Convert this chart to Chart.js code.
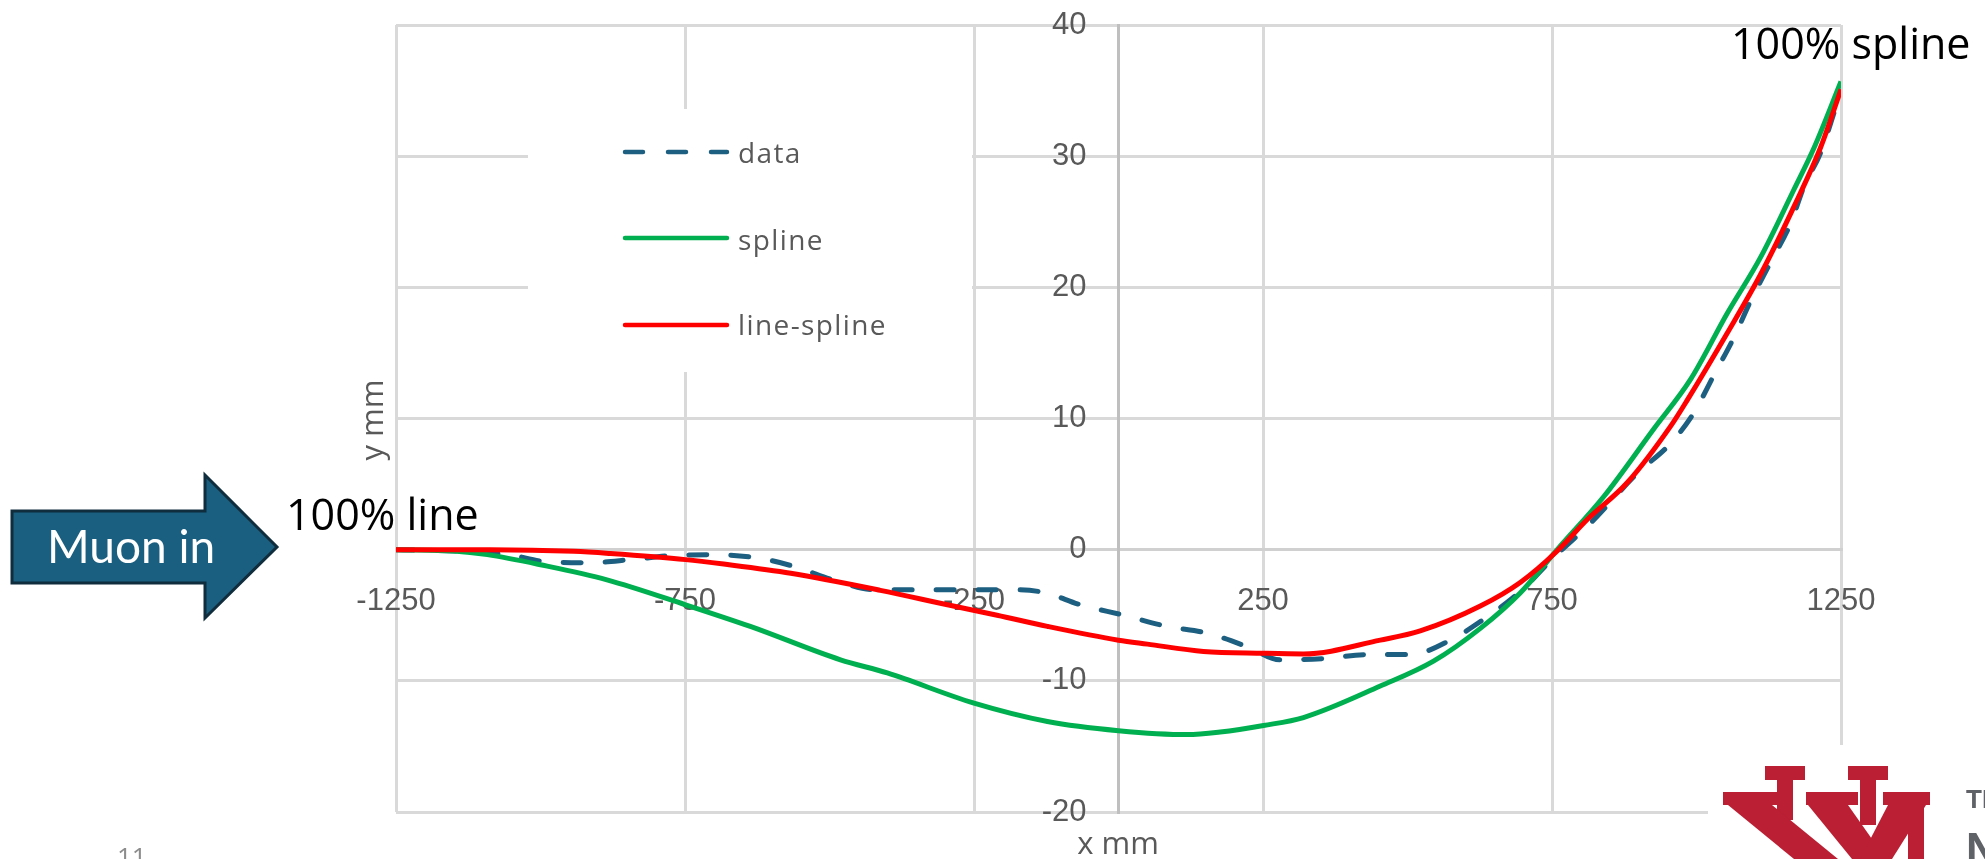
<!DOCTYPE html>
<html>
<head>
<meta charset="utf-8">
<script src="https://cdn.jsdelivr.net/npm/chart.js@4.4.1/dist/chart.umd.min.js"></script>
<style>
  html, body { margin: 0; padding: 0; background: #fff; }
  #wrap { position: relative; width: 1985px; height: 859px; overflow: hidden; }
  #chart { position: absolute; left: 0; top: 0; }
  #deco { position: absolute; left: 0; top: 0; pointer-events: none; }
</style>
</head>
<body>
<div id="wrap">
  <canvas id="chart" width="1985" height="859"></canvas>
  <svg id="deco" width="1985" height="859" xmlns="http://www.w3.org/2000/svg">
    <!-- legend -->
    <rect x="528" y="109" width="444" height="263" fill="#fff"/>
    <line x1="625" y1="152" x2="727" y2="152" stroke="#1d5f80" stroke-width="4.5" stroke-linecap="round" stroke-dasharray="18 25"/>
    <line x1="625" y1="238" x2="727" y2="238" stroke="#00b050" stroke-width="4.5" stroke-linecap="round"/>
    <line x1="625" y1="325" x2="727" y2="325" stroke="#ff0000" stroke-width="4.5" stroke-linecap="round"/>
    <g font-family="Open Sans" font-size="28" fill="#595959" letter-spacing="1.4">
      <text x="738" y="163">data</text>
      <text x="738" y="250">spline</text>
      <text x="738" y="335">line-spline</text>
    </g>
    <!-- axis titles -->
    <text x="1118" y="854" text-anchor="middle" font-family="Open Sans" font-size="31" fill="#595959">x mm</text>
    <text transform="translate(383,420) rotate(-90)" text-anchor="middle" font-family="Open Sans" font-size="31" fill="#595959">y mm</text>
    <!-- annotations -->
    <text x="1731" y="59" font-family="Open Sans" font-size="43" fill="#000">100% spline</text>
    <text x="286" y="530" font-family="Open Sans" font-size="43" fill="#000">100% line</text>
    <polygon points="12,511 205,511 205,475 277,547 205,618 205,583 12,583" fill="#1a5f80" stroke="#0f2d3d" stroke-width="3"/>
    <text x="47" y="563" font-family="Lato" font-size="46" fill="#fff">Muon in</text>
    <text x="117" y="866" font-family="Open Sans" font-size="26" fill="#8c8c8c">11</text>
    <!-- logo -->
    <rect x="1708" y="745" width="277" height="114" fill="#fff"/>
    <g fill="#ba1f33">
      <rect x="1765" y="766" width="40" height="14"/>
      <rect x="1777" y="780" width="16" height="40"/>
      <rect x="1848" y="766" width="40" height="14"/>
      <rect x="1860" y="780" width="16" height="45"/>
      <rect x="1723" y="792" width="54" height="13"/>
      <rect x="1806" y="792" width="52" height="13"/>
      <rect x="1883" y="792" width="47" height="13"/>
      <polygon points="1728,805 1772,805 1838,859 1794,859"/>
      <polygon points="1808,805 1848,805 1886,859 1852,859"/>
      <polygon points="1888,805 1926,805 1892,859 1860,859"/>
      <rect x="1908" y="805" width="16" height="54"/>
    </g>
    <text x="1966" y="808" font-family="Liberation Sans" font-weight="bold" font-size="26" fill="#5f6266">THE UNIVERSITY OF</text>
    <text x="1966" y="864" font-family="Liberation Sans" font-weight="bold" font-size="44" fill="#5f6266">NEW MEXICO</text>
  </svg>
</div>
<script>
// tick values
const xTicks = [-1250, -750, -250, 250, 750, 1250];
const yTicks = [-20, -10, 0, 10, 20, 30, 40];

// data (dashed)
const dataX = [-1250, -1150, -1055, -994, -919, -844, -775, -700, -625, -562, -487, -423, -354, -279, -198, -129, -66, 9, 84, 153, 223, 280, 355, 430, 505, 574, 632, 695, 753, 817, 897, 955, 995, 1030, 1065, 1094, 1128, 1163, 1186, 1215, 1250];
const dataY = [0, -0.1, -0.38, -0.9, -1.0, -0.76, -0.46, -0.38, -0.63, -1.27, -2.4, -3.05, -3.05, -3.05, -3.05, -3.26, -4.2, -5.0, -5.85, -6.36, -7.4, -8.4, -8.3, -8.0, -8.0, -6.9, -5.3, -3.2, -0.6, 2.04, 5.8, 8.1, 10.4, 13.3, 16.2, 19.0, 21.9, 24.9, 27.7, 30.3, 35.0];

// spline
const splineX = [-1250, -1150, -1092, -1000, -885, -749, -637, -481, -400, -250, -123, 0, 119, 176, 251, 320, 453, 545, 626, 695, 759, 840, 926, 990, 1053, 1111, 1168, 1203, 1250];
const splineY = [0, -0.1, -0.38, -1.15, -2.3, -4.2, -5.85, -8.4, -9.4, -11.7, -13.1, -13.8, -14.1, -13.9, -13.4, -12.8, -10.4, -8.5, -6.0, -3.3, 0, 4.07, 9.2, 13.0, 18.0, 22.3, 27.4, 30.6, 35.7];

// line-spline
const lineSplineX = [-1250, -1087, -942, -879, -749, -683, -567, -412, -296, -210, -123, 0, 50, 147, 251, 320, 453, 522, 626, 695, 759, 811, 880, 955, 984, 1053, 1111, 1168, 1215, 1250];
const lineSplineY = [0, 0, -0.13, -0.3, -0.76, -1.1, -1.8, -3.1, -4.2, -5.0, -5.85, -6.9, -7.2, -7.76, -7.9, -7.95, -6.9, -6.2, -4.3, -2.5, -0.1, 2.3, 5.1, 9.4, 11.4, 16.5, 21.0, 26.1, 30.7, 35.1];

const pts = (xs, ys) => xs.map((x, i) => ({ x: x, y: ys[i] }));

const tickFont = { family: 'Liberation Sans', size: 31 };

// the y labels sit on an axis placed at x = 0; chart.js puts them flush
// against it, so push them left once like the excel chart does
const shiftYLabels = {
  id: 'shiftYLabels',
  beforeDraw(chart) {
    const items = chart.scales.y.getLabelItems();
    if (items._shifted) return;
    items.forEach(it => { it.options.translation[0] -= 32; });
    items._shifted = true;
  }
};

new Chart(document.getElementById('chart').getContext('2d'), {
  type: 'scatter',
  data: {
    datasets: [
      {
        label: 'line-spline',
        data: pts(lineSplineX, lineSplineY),
        showLine: true,
        borderColor: '#ff0000',
        borderWidth: 5,
        pointRadius: 0,
        cubicInterpolationMode: 'monotone',
        order: 1
      },
      {
        label: 'spline',
        data: pts(splineX, splineY),
        showLine: true,
        borderColor: '#00b050',
        borderWidth: 5,
        pointRadius: 0,
        cubicInterpolationMode: 'monotone',
        order: 2
      },
      {
        label: 'data',
        data: pts(dataX, dataY),
        showLine: true,
        borderColor: '#1d5f80',
        borderWidth: 5,
        borderDash: [18, 24],
        borderCapStyle: 'round',
        pointRadius: 0,
        cubicInterpolationMode: 'monotone',
        order: 3
      }
    ]
  },
  options: {
    responsive: false,
    animation: false,
    layout: { padding: { left: 396, right: 144, top: 25, bottom: 47 } },
    plugins: { legend: { display: false }, tooltip: { enabled: false } },
    scales: {
      x: {
        type: 'linear',
        min: -1250,
        max: 1250,
        position: { y: 0 },
        afterBuildTicks: s => { s.ticks = xTicks.map(v => ({ value: v })); },
        afterFit: s => { s.height = 0; },
        ticks: {
          color: '#595959',
          font: tickFont,
          padding: 33,
          maxRotation: 0,
          autoSkip: false,
          callback: v => String(v)
        },
        grid: { color: '#d9d9d9', lineWidth: 3, drawTicks: false },
        border: { color: '#d0d0d0', width: 3 }
      },
      y: {
        type: 'linear',
        min: -20,
        max: 40,
        position: { x: 0 },
        afterBuildTicks: s => { s.ticks = yTicks.map(v => ({ value: v })); },
        afterFit: s => { s.width = 0; },
        ticks: {
          color: '#595959',
          font: tickFont,
          callback: v => String(v)
        },
        grid: { color: '#d9d9d9', lineWidth: 3, drawTicks: false },
        border: { color: '#bfbfbf', width: 3 }
      }
    }
  },
  plugins: [shiftYLabels]
});
</script>
</body>
</html>
